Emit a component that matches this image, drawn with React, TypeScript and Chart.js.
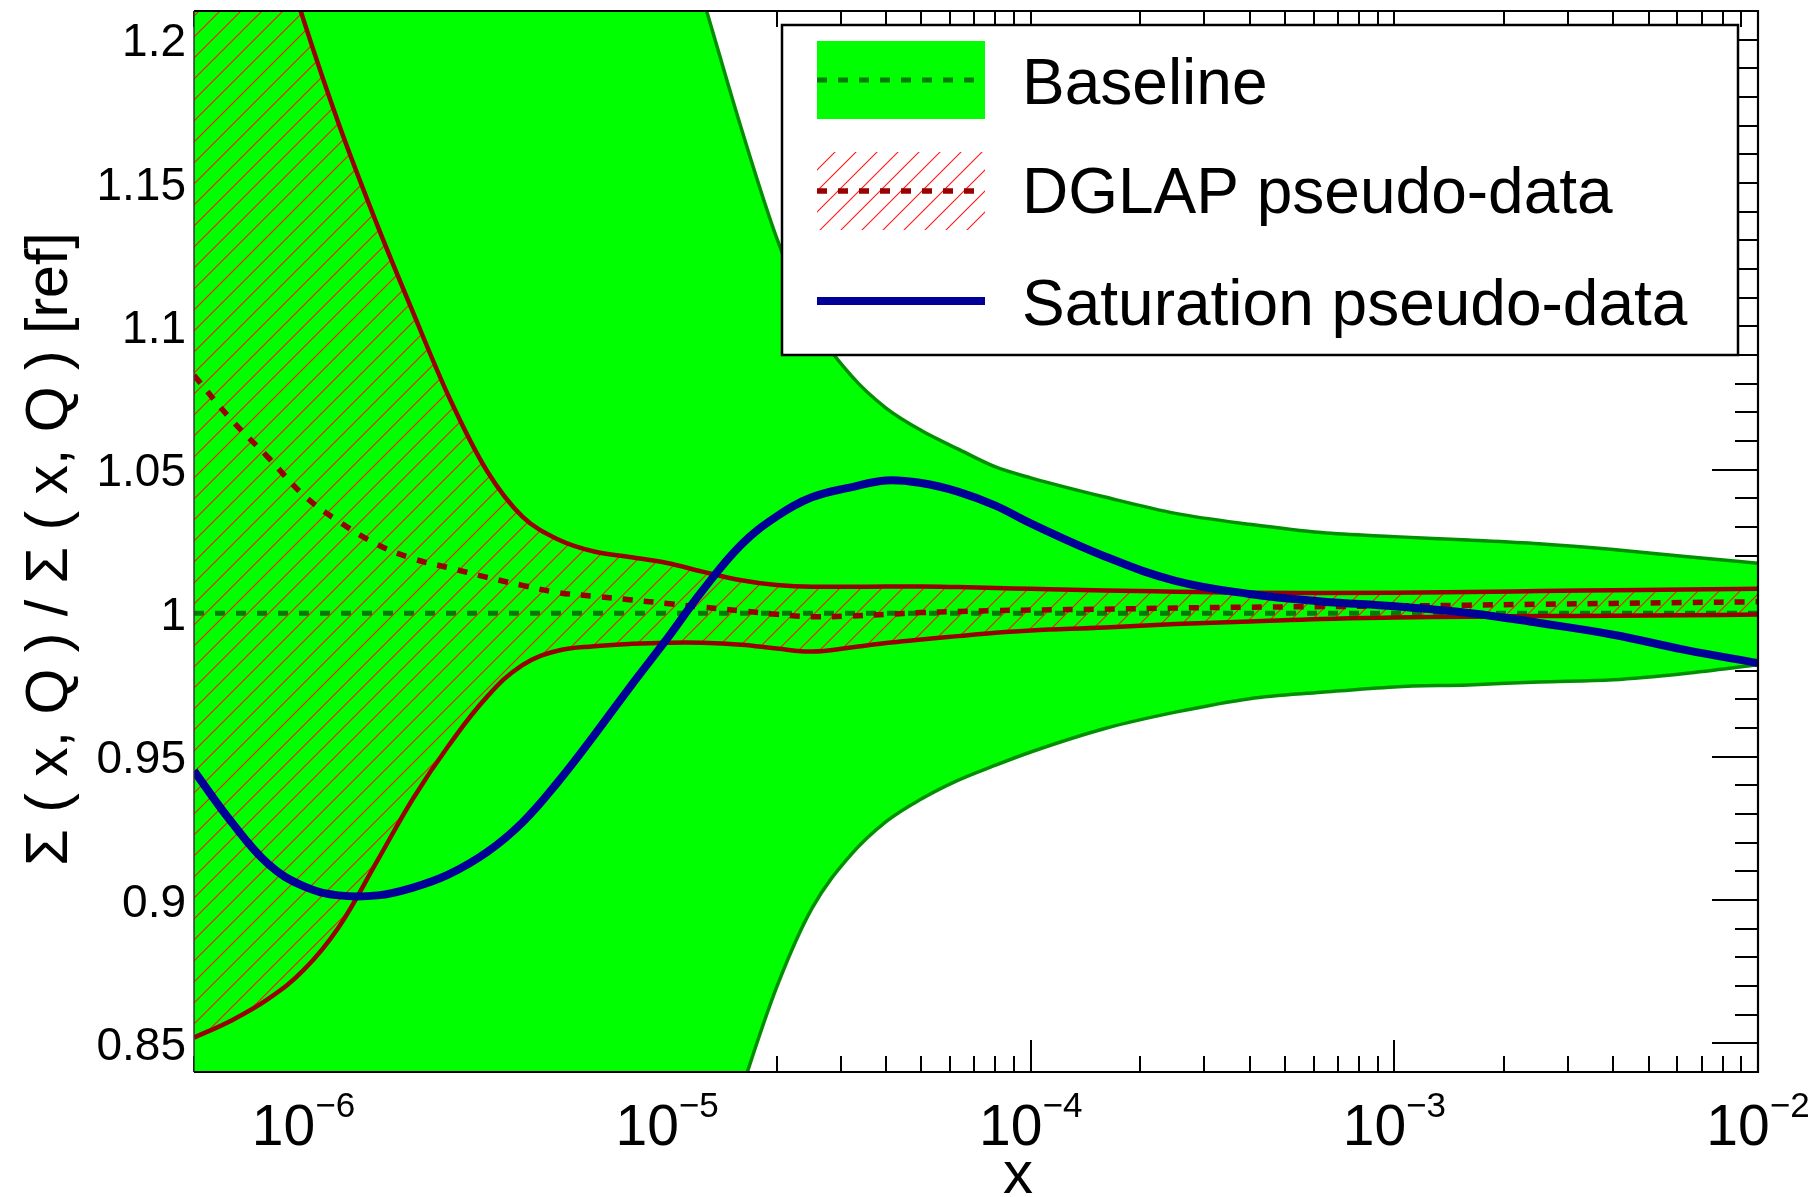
import React, { useEffect, useRef } from "react";
import { Chart, registerables } from "chart.js";

Chart.register(...registerables);

const FONT = "'Liberation Sans', Arial, Helvetica, sans-serif";

// Sampling points in x (shared by all curves)
const xValues = [
  5e-7, 6.3e-7, 8e-7, 1e-6, 1.25e-6, 1.6e-6, 2e-6, 2.5e-6, 3.2e-6, 4e-6, 5e-6, 6.3e-6, 8e-6,
  1e-5, 1.25e-5, 1.6e-5, 2e-5, 2.5e-5, 3.2e-5, 4e-5, 5e-5, 6.3e-5, 8e-5,
  1e-4, 1.6e-4, 2.5e-4, 4e-4, 6.3e-4, 1e-3, 1.6e-3, 2.5e-3, 4e-3, 6.3e-3, 1e-2,
];

// Baseline uncertainty band
const baselineUpper = [
  2.2, 2.1, 2.0, 1.9, 1.8, 1.7, 1.62, 1.55, 1.49, 1.43, 1.38, 1.33, 1.295,
  1.255, 1.215, 1.169, 1.131, 1.102, 1.083, 1.0715, 1.0637, 1.0573, 1.051,
  1.0472, 1.0405, 1.0348, 1.031, 1.0281, 1.0267, 1.0255, 1.0242, 1.0222, 1.0198, 1.0174,
];
const baselineLower = [
  0.25, 0.29, 0.33, 0.37, 0.41, 0.45, 0.49, 0.53, 0.57, 0.605, 0.64, 0.675, 0.705,
  0.745, 0.789, 0.8335, 0.8695, 0.897, 0.9157, 0.9273, 0.9352, 0.9417, 0.947,
  0.9516, 0.9598, 0.9655, 0.9702, 0.9724, 0.9743, 0.975, 0.976, 0.9768, 0.979, 0.982,
];
const baselineCentralX = [5e-7, 1e-2];
const baselineCentral = [1, 1];

// DGLAP pseudo-data fit
const dglapUpper = [
  1.33, 1.29, 1.247, 1.207, 1.1707, 1.135, 1.105, 1.076, 1.0495, 1.0337, 1.0258, 1.0215, 1.0195,
  1.0175, 1.0145, 1.0115, 1.0098, 1.0092, 1.0092, 1.0093, 1.0093, 1.0091, 1.0088,
  1.0085, 1.0079, 1.0075, 1.0071, 1.007, 1.0071, 1.0074, 1.0077, 1.008, 1.0083, 1.0085,
];
const dglapCentral = [
  1.083, 1.0678, 1.0543, 1.0412, 1.032, 1.0239, 1.019, 1.0159, 1.0125, 1.0097, 1.0072, 1.0059, 1.0046,
  1.0034, 1.0021, 1.0008, 0.9996, 0.9988, 0.999, 0.9996, 1.0002, 1.0006, 1.0009,
  1.0011, 1.0014, 1.0018, 1.0021, 1.0023, 1.0025, 1.0028, 1.0031, 1.0034, 1.0037, 1.004,
];
const dglapLower = [
  0.852, 0.8578, 0.8655, 0.8755, 0.8905, 0.9139, 0.9353, 0.9536, 0.9709, 0.9819, 0.9869, 0.9885, 0.9893,
  0.9897, 0.9897, 0.989, 0.9877, 0.9866, 0.988, 0.9896, 0.9908, 0.992, 0.9932,
  0.994, 0.995, 0.9962, 0.9971, 0.998, 0.9985, 0.9988, 0.999, 0.9991, 0.9993, 0.9995,
];

// Saturation pseudo-data fit
const saturation = [
  0.945, 0.9276, 0.9125, 0.9048, 0.9016, 0.9016, 0.9043, 0.9088, 0.9167, 0.927, 0.941, 0.9574, 0.9751,
  0.9911, 1.0078, 1.0239, 1.0337, 1.0404, 1.0439, 1.0463, 1.0454, 1.0424, 1.0375,
  1.0313, 1.0198, 1.0113, 1.0067, 1.0041, 1.0024, 1.0001, 0.9966, 0.9925, 0.9872, 0.9826,
];

// Axes
const xRange = [5e-7, 1e-2];
const yRange = [0.84, 1.21];
const xDecadeExponents = [-6, -5, -4, -3, -2];
const yTickValues = [0.85, 0.9, 0.95, 1, 1.05, 1.1, 1.15, 1.2];
const xTitle = "x";
const yTitle = "\u03A3 ( x, Q ) / \u03A3 ( x, Q ) [ref]";
const seriesLabels = ["Baseline", "DGLAP pseudo-data", "Saturation pseudo-data"];

// Styles
const GREEN = "#00ff00";
const GREEN_EDGE = "#008f00";
const GREEN_DASH = "#067a06";
const DARK_RED = "#990000";
const HATCH_RED = "rgb(255,20,20)";
const BLUE = "#000099";
const DASH = [10, 11];

function makeHatch(): CanvasPattern | string {
  const s = 21;
  const c = document.createElement("canvas");
  c.width = s;
  c.height = s;
  const g = c.getContext("2d");
  if (!g) return HATCH_RED;
  g.strokeStyle = HATCH_RED;
  g.lineWidth = 1.1;
  for (const k of [-1, 0, 1]) {
    g.beginPath();
    g.moveTo(k * s - 2, s + 2);
    g.lineTo(k * s + s + 2, -2);
    g.stroke();
  }
  return g.createPattern(c, "repeat") || HATCH_RED;
}

const pts = (ys: number[], xs: number[] = xValues) => ys.map((y, i) => ({ x: xs[i], y }));

const decorations = {
  id: "decorations",
  beforeDatasetsDraw(chart: any) {
    const { ctx, chartArea: a, scales } = chart;
    const xs = scales.x;
    const ys = scales.y;
    ctx.save();
    ctx.strokeStyle = "#000";
    ctx.lineWidth = 2;
    ctx.beginPath();
    for (let e = -7; e <= -2; e++) {
      for (let m = 1; m <= 9; m++) {
        const v = m * Math.pow(10, e);
        if (v < xRange[0] * 0.999 || v > xRange[1] * 1.001) continue;
        const px = Math.round(xs.getPixelForValue(v));
        const len = m === 1 ? 32 : 16;
        ctx.moveTo(px, a.bottom);
        ctx.lineTo(px, a.bottom - len);
        ctx.moveTo(px, a.top);
        ctx.lineTo(px, a.top + len);
      }
    }
    for (let k = 84; k <= 121; k++) {
      const py = Math.round(ys.getPixelForValue(k / 100));
      const len = k % 5 === 0 ? 46 : 23;
      ctx.moveTo(a.left, py);
      ctx.lineTo(a.left + len, py);
      ctx.moveTo(a.right, py);
      ctx.lineTo(a.right - len, py);
    }
    ctx.stroke();
    ctx.restore();
  },
  afterDatasetsDraw(chart: any) {
    const { ctx, chartArea: a, scales } = chart;
    const xs = scales.x;
    ctx.save();

    // frame
    ctx.strokeStyle = "#000";
    ctx.lineWidth = 2.2;
    ctx.beginPath();
    ctx.moveTo(a.left, a.bottom);
    ctx.lineTo(a.right, a.bottom);
    ctx.lineTo(a.right, a.top);
    ctx.lineTo(a.left, a.top);
    ctx.stroke();
    ctx.strokeStyle = "#333";
    ctx.lineWidth = 1.5;
    ctx.beginPath();
    ctx.moveTo(a.left, a.top);
    ctx.lineTo(a.left, a.bottom);
    ctx.stroke();

    // x tick labels 10^n
    ctx.fillStyle = "#000";
    ctx.textBaseline = "alphabetic";
    ctx.textAlign = "left";
    for (const e of xDecadeExponents) {
      const px = xs.getPixelForValue(Math.pow(10, e));
      const base = "10";
      const sup = (e < 0 ? "\u2212" : "") + Math.abs(e);
      ctx.font = `57px ${FONT}`;
      const w1 = ctx.measureText(base).width;
      ctx.font = `35px ${FONT}`;
      const w2 = ctx.measureText(sup).width;
      const x0 = px - (w1 + w2) / 2;
      ctx.font = `57px ${FONT}`;
      ctx.fillText(base, x0, 1145);
      ctx.font = `35px ${FONT}`;
      ctx.fillText(sup, x0 + w1, 1117);
    }

    // axis titles
    ctx.font = `60px ${FONT}`;
    ctx.textAlign = "center";
    ctx.fillText(xTitle, 1018, 1193);
    ctx.save();
    ctx.translate(67, 549);
    ctx.rotate(-Math.PI / 2);
    ctx.font = `59px ${FONT}`;
    ctx.fillText(yTitle, 0, 0);
    ctx.restore();

    // legend
    const L = { left: 782, top: 25, right: 1738, bottom: 355 };
    ctx.fillStyle = "#fff";
    ctx.fillRect(L.left, L.top, L.right - L.left, L.bottom - L.top);
    ctx.strokeStyle = "#000";
    ctx.lineWidth = 2.5;
    ctx.strokeRect(L.left, L.top, L.right - L.left, L.bottom - L.top);

    const sx0 = 817;
    const sx1 = 985;
    const rows = [80, 191, 301];
    const baselines = [104, 213, 325];

    // Baseline entry
    ctx.fillStyle = GREEN;
    ctx.fillRect(sx0, rows[0] - 39, sx1 - sx0, 78);
    ctx.strokeStyle = GREEN_DASH;
    ctx.lineWidth = 5;
    ctx.setLineDash(DASH);
    ctx.beginPath();
    ctx.moveTo(sx0, rows[0]);
    ctx.lineTo(sx1, rows[0]);
    ctx.stroke();

    // DGLAP entry
    ctx.setLineDash([]);
    ctx.fillStyle = chart.data.datasets[3].backgroundColor;
    ctx.fillRect(sx0, rows[1] - 39, sx1 - sx0, 78);
    ctx.strokeStyle = DARK_RED;
    ctx.lineWidth = 5.5;
    ctx.setLineDash(DASH);
    ctx.beginPath();
    ctx.moveTo(sx0, rows[1]);
    ctx.lineTo(sx1, rows[1]);
    ctx.stroke();

    // Saturation entry
    ctx.setLineDash([]);
    ctx.strokeStyle = BLUE;
    ctx.lineWidth = 8;
    ctx.beginPath();
    ctx.moveTo(sx0, rows[2]);
    ctx.lineTo(sx1, rows[2]);
    ctx.stroke();

    ctx.fillStyle = "#000";
    ctx.textAlign = "left";
    ctx.font = `64px ${FONT}`;
    seriesLabels.forEach((t, i) => ctx.fillText(t, 1022, baselines[i]));

    ctx.restore();
  },
};

export default function App() {
  const ref = useRef<HTMLCanvasElement>(null);

  useEffect(() => {
    const canvas = ref.current;
    if (!canvas) return;
    const hatch = makeHatch();
    // band edges leave the visible range, so they keep a monotone curve
    const edge = {
      pointRadius: 0,
      pointHoverRadius: 0,
      cubicInterpolationMode: "monotone",
      borderCapStyle: "butt",
    };
    // curves that stay inside the frame use a smooth cardinal spline
    const smooth = {
      pointRadius: 0,
      pointHoverRadius: 0,
      tension: 0.4,
      borderCapStyle: "butt",
    };
    const chart = new Chart(canvas, {
      type: "line",
      data: {
        datasets: [
          {
            ...edge,
            label: "Baseline (upper)",
            data: pts(baselineUpper),
            borderColor: GREEN_EDGE,
            borderWidth: 3.5,
            backgroundColor: GREEN,
            fill: "+1",
            order: 7,
          },
          {
            ...edge,
            label: "Baseline (lower)",
            data: pts(baselineLower),
            borderColor: GREEN_EDGE,
            borderWidth: 3.5,
            fill: false,
            order: 6,
          },
          {
            ...edge,
            label: seriesLabels[0],
            data: pts(baselineCentral, baselineCentralX),
            borderColor: GREEN_DASH,
            borderWidth: 5,
            borderDash: DASH,
            fill: false,
            order: 5,
          },
          {
            ...edge,
            label: "DGLAP (upper)",
            data: pts(dglapUpper),
            borderColor: DARK_RED,
            borderWidth: 4.5,
            backgroundColor: hatch,
            fill: "+1",
            order: 4,
          },
          {
            ...smooth,
            label: "DGLAP (lower)",
            data: pts(dglapLower),
            borderColor: DARK_RED,
            borderWidth: 4.5,
            fill: false,
            order: 3,
          },
          {
            ...smooth,
            label: seriesLabels[1],
            data: pts(dglapCentral),
            borderColor: DARK_RED,
            borderWidth: 5.5,
            borderDash: DASH,
            fill: false,
            order: 2,
          },
          {
            ...smooth,
            label: seriesLabels[2],
            data: pts(saturation),
            borderColor: BLUE,
            borderWidth: 8,
            fill: false,
            order: 1,
          },
        ],
      } as any,
      options: {
        animation: false,
        responsive: false,
        devicePixelRatio: 1,
        events: [],
        layout: { padding: { top: 11, right: 57, left: 0, bottom: 0 } },
        plugins: {
          legend: { display: false },
          tooltip: { enabled: false },
          title: { display: false },
        },
        scales: {
          x: {
            type: "logarithmic",
            min: xRange[0],
            max: xRange[1],
            grid: { display: false, drawTicks: false },
            border: { display: false },
            ticks: { display: false },
            afterFit: (s: any) => {
              s.height = 125;
              s.paddingLeft = 0;
              s.paddingRight = 0;
            },
          },
          y: {
            type: "linear",
            min: yRange[0],
            max: yRange[1],
            grid: { display: false, drawTicks: false },
            border: { display: false },
            afterBuildTicks: (s: any) => {
              s.ticks = yTickValues.map((value) => ({ value }));
            },
            afterFit: (s: any) => {
              s.width = 194;
              s.paddingTop = 0;
              s.paddingBottom = 0;
            },
            ticks: {
              color: "#000",
              font: { size: 46, family: FONT },
              padding: 8,
              labelOffset: 4,
              callback: (v: any) => String(v),
            },
          },
        },
      } as any,
      plugins: [decorations],
    });
    return () => chart.destroy();
  }, []);

  return (
    <div style={{ position: "absolute", left: 0, top: 0, width: 1815, height: 1197, background: "#fff" }}>
      <canvas ref={ref} width={1815} height={1197} style={{ display: "block" }} />
    </div>
  );
}
